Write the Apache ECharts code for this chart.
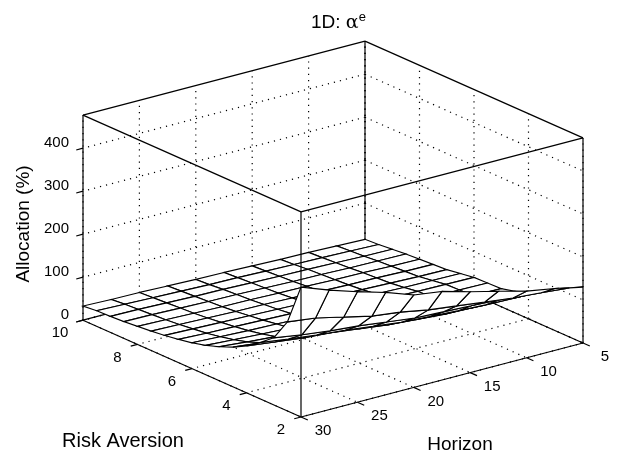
<!DOCTYPE html>
<html>
<head>
<meta charset="utf-8">
<title>1D: alpha e</title>
<script src="https://cdn.jsdelivr.net/npm/echarts@6/dist/echarts.min.js"></script>
<style>
html, body { margin: 0; padding: 0; background: #fff; }
#chart { width: 618px; height: 459px; }
</style>
</head>
<body>
<div id="chart"></div>
<script>
// axes ranges and ticks
var horizons = [5, 7.5, 10, 12.5, 15, 17.5, 20, 22.5, 25, 27.5, 30];
var risks = [10, 9.5, 9, 8.5, 8, 7.5, 7, 6.5, 6, 5.5, 5, 4.5, 4, 3.5, 3, 2.5, 2];
var hTicks = [5, 10, 15, 20, 25, 30];
var rTicks = [2, 4, 6, 8, 10];
var zTicks = [0, 100, 200, 300, 400];
var zTop = 477;

// allocation (%), one row per risk aversion, horizon ascending
var allocR100 = [16, 18, 20, 21, 23, 25, 26, 28, 30, 31, 33];
var allocR95 = [18, 20, 22, 23, 25, 27, 28, 30, 32, 34, 36];
var allocR90 = [21, 22, 24, 26, 27, 29, 31, 32, 34, 36, 37];
var allocR85 = [24, 25, 26, 28, 29, 31, 33, 34, 36, 38, 39];
var allocR80 = [26, 27, 29, 30, 32, 33, 35, 36, 38, 40, 42];
var allocR75 = [28, 29, 31, 32, 34, 36, 38, 39, 41, 43, 45];
var allocR70 = [30, 31, 33, 35, 37, 39, 41, 43, 45, 47, 49];
var allocR65 = [35, 36, 37, 39, 41, 43, 45, 47, 49, 51, 54];
var allocR60 = [40, 41, 42, 43, 45, 47, 49, 52, 54, 57, 60];
var allocR55 = [41, 42, 43, 45, 47, 50, 53, 57, 60, 64, 68];
var allocR50 = [42, 43, 45, 47, 50, 54, 58, 63, 68, 73, 79];
var allocR45 = [50, 51, 52, 54, 58, 62, 68, 74, 79, 85, 92];
var allocR40 = [62, 60, 60, 62, 67, 72, 80, 88, 93, 101, 109];
var allocR35 = [78, 79, 81, 84, 88, 92, 100, 108, 114, 122, 131];
var allocR30 = [98, 101, 107, 110, 113, 116, 124, 132, 138, 146, 156];
var allocR25 = [114, 120, 125, 133, 141, 149, 161, 169, 184, 199, 207];
var allocR20 = [130, 144, 155, 172, 188, 206, 215, 238, 257, 278, 302];
var alloc = [allocR100, allocR95, allocR90, allocR85, allocR80, allocR75, allocR70, allocR65, allocR60,
    allocR55, allocR50, allocR45, allocR40, allocR35, allocR30, allocR25, allocR20];

var chart = echarts.init(document.getElementById('chart'));

// oblique view of the box, result is in the hidden plane axes below
function project(h, r, z) {
    var x = 583 - (h - 5) * 11.28 - (r - 2) * 27.25;
    var y = 343 + (h - 5) * 2.96 - (r - 2) * 12.1 - z * 0.43;
    return [x, y];
}

function segment(h1, r1, z1, h2, r2, z2) {
    return [h1, r1, z1, h2, r2, z2];
}

// dotted grid on the floor and the two back walls
var gridSegs = [];
hTicks.forEach(function(h) {
    gridSegs.push(segment(h, 10, 0, h, 2, 0));
    gridSegs.push(segment(h, 10, 0, h, 10, zTop));
});
rTicks.forEach(function(r) {
    gridSegs.push(segment(5, r, 0, 30, r, 0));
    gridSegs.push(segment(5, r, 0, 5, r, zTop));
});
zTicks.forEach(function(z) {
    gridSegs.push(segment(5, 10, z, 30, 10, z));
    gridSegs.push(segment(5, 10, z, 5, 2, z));
});

// box edges behind the surface
var backSegs = [
    segment(5, 10, 0, 30, 10, 0),
    segment(5, 10, 0, 5, 2, 0),
    segment(5, 10, 0, 5, 10, zTop)
];

// box edges and tick marks in front of it
var frontSegs = [
    segment(30, 10, 0, 30, 10, zTop),
    segment(30, 2, 0, 30, 2, zTop),
    segment(5, 2, 0, 5, 2, zTop),
    segment(30, 10, 0, 30, 2, 0),
    segment(30, 2, 0, 5, 2, 0),
    segment(5, 10, zTop, 30, 10, zTop),
    segment(5, 10, zTop, 5, 2, zTop),
    segment(30, 2, zTop, 30, 10, zTop),
    segment(30, 2, zTop, 5, 2, zTop)
];
hTicks.forEach(function(h) {
    frontSegs.push(segment(h, 2, 0, h, 1.75, 0));
});
rTicks.forEach(function(r) {
    frontSegs.push(segment(30, r, 0, 30.6, r, 0));
});
zTicks.forEach(function(z) {
    frontSegs.push(segment(30, 10, z, 30.6, 10, z));
});

// surface cells, far corner first so the nearer ones cover them
var cells = [];
for (var i = 0; i < risks.length - 1; i++) {
    for (var j = 0; j < horizons.length - 1; j++) {
        cells.push([i, j]);
    }
}

function renderSeg(dash, width) {
    return function(params, api) {
        var a = api.coord(project(api.value(0), api.value(1), api.value(2)));
        var b = api.coord(project(api.value(3), api.value(4), api.value(5)));
        return {
            type: 'line',
            shape: { x1: a[0], y1: a[1], x2: b[0], y2: b[1] },
            style: { stroke: '#000', lineWidth: width, lineDash: dash }
        };
    };
}

function renderCell(params, api) {
    var i = api.value(0);
    var j = api.value(1);
    var corners = [[i, j], [i, j + 1], [i + 1, j + 1], [i + 1, j]];
    var pts = corners.map(function(c) {
        return api.coord(project(horizons[c[1]], risks[c[0]], alloc[c[0]][c[1]]));
    });
    return {
        type: 'polygon',
        shape: { points: pts },
        style: { fill: '#fff', stroke: '#000', lineWidth: 1.15 }
    };
}

// tick labels, sitting a few pixels off their tick
var labels = [];
hTicks.forEach(function(h) {
    labels.push({ pos: [h, 2, 0], text: String(h), dx: 22, dy: 14 });
});
rTicks.forEach(function(r) {
    labels.push({ pos: [30, r, 0], text: String(r), dx: r == 10 ? -23 : -20, dy: 13 });
});
zTicks.forEach(function(z) {
    labels.push({ pos: [30, 10, z], text: String(z), dx: -14, dy: -5, align: 'right' });
});

function renderLabel(params, api) {
    var l = labels[params.dataIndex];
    var p = api.coord(project(l.pos[0], l.pos[1], l.pos[2]));
    var align = l.align ? l.align : 'center';
    return {
        type: 'text',
        x: p[0] + l.dx,
        y: p[1] + l.dy,
        style: {
            text: l.text,
            fill: '#000',
            font: '15px "Liberation Sans"',
            align: align,
            verticalAlign: 'middle'
        }
    };
}

var option = {
    animation: false,
    backgroundColor: '#fff',
    title: {
        text: '1D: {a|α}{e|e}',
        left: 306,
        top: 6,
        textStyle: {
            color: '#000',
            fontWeight: 'normal',
            fontFamily: 'Liberation Sans',
            fontSize: 19,
            rich: {
                a: { fontSize: 19, fontFamily: 'DejaVu Serif', color: '#000' },
                e: { fontSize: 13, fontFamily: 'Liberation Sans', color: '#000', padding: [0, 0, 11, 0] }
            }
        }
    },
    grid: { left: 0, right: 0, top: 0, bottom: 0 },
    xAxis: { type: 'value', min: 0, max: 618, show: false },
    yAxis: { type: 'value', min: 0, max: 459, inverse: true, show: false },
    graphic: [
        { type: 'text', x: 123, y: 441, style: { text: 'Risk Aversion', font: '20px "Liberation Sans"', fill: '#000', align: 'center', verticalAlign: 'middle' } },
        { type: 'text', x: 460, y: 445, style: { text: 'Horizon', font: '19px "Liberation Sans"', fill: '#000', align: 'center', verticalAlign: 'middle' } },
        { type: 'text', x: 24, y: 224, rotation: Math.PI / 2, style: { text: 'Allocation (%)', font: '19px "Liberation Sans"', fill: '#000', align: 'center', verticalAlign: 'middle' } }
    ],
    series: [
        { type: 'custom', data: gridSegs, renderItem: renderSeg([1.2, 5], 1.2), clip: false, z: 1, silent: true },
        { type: 'custom', data: backSegs, renderItem: renderSeg(null, 1.2), clip: false, z: 2, silent: true },
        { type: 'custom', data: cells, renderItem: renderCell, clip: false, z: 3, silent: true },
        { type: 'custom', data: frontSegs, renderItem: renderSeg(null, 1.2), clip: false, z: 4, silent: true },
        { type: 'custom', data: labels.map(function(l) { return l.pos; }), renderItem: renderLabel, clip: false, z: 5, silent: true }
    ]
};

chart.setOption(option);
</script>
</body>
</html>
